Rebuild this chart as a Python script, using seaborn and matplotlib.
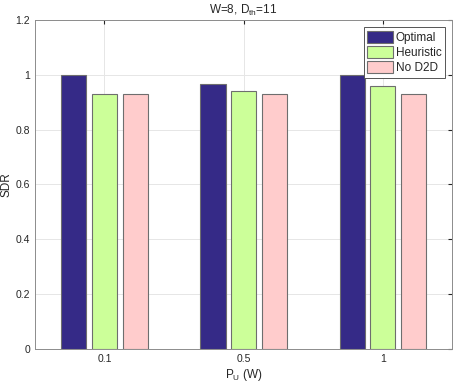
import numpy as np
import pandas as pd
import matplotlib
matplotlib.use("Agg")
import matplotlib.pyplot as plt
import seaborn as sns

# values
power = ["0.1", "0.5", "1"]
optimal = [1.0, 0.965, 1.0]
heuristic = [0.93, 0.942, 0.96]
no_d2d = [0.93, 0.93, 0.93]
schemes = ["Optimal", "Heuristic", "No D2D"]
colors = ["#352a87", "#ccff99", "#ffcccc"]

df = pd.DataFrame({
    "P": power * 3,
    "SDR": optimal + heuristic + no_d2d,
    "scheme": [s for s in schemes for _ in power],
})

sns.set_style("white")
plt.rcParams["font.family"] = ["Liberation Sans", "DejaVu Sans"]
plt.rcParams["mathtext.default"] = "regular"

fig = plt.figure(figsize=(4.6, 3.83), dpi=100)
ax = fig.add_axes([0.076, 0.089, 0.907, 0.859])

sns.barplot(data=df, x="P", y="SDR", hue="scheme", order=power,
            hue_order=schemes, palette=colors, width=0.66, gap=0.18,
            saturation=1, edgecolor="#6e6e6e", linewidth=0.8, ax=ax,
            zorder=3)

ax.set_xlim(-0.5, 2.5)
ax.set_ylim(0, 1.2)
ax.set_yticks(np.arange(0, 1.21, 0.2))
ax.set_yticklabels(["0", "0.2", "0.4", "0.6", "0.8", "1", "1.2"])
ax.grid(True, color="#e6e6e6", linewidth=0.7, zorder=0)
ax.set_axisbelow(True)
ax.tick_params(direction="in", length=3, labelsize=7.5, colors="#262626",
               top=True, right=True)
for s in ax.spines.values():
    s.set_color("#8c8c8c")
    s.set_linewidth(0.7)

ax.set_title("W=8, D$_{th}$=11", fontsize=8.5, pad=4, color="#262626")
ax.set_xlabel("P$_{U}$ (W)", fontsize=8.5, labelpad=2, color="#262626")
ax.set_ylabel("SDR", fontsize=8.5, labelpad=2, color="#262626")

leg = ax.legend(loc="upper right", fontsize=8.5, fancybox=False,
                edgecolor="#555555", handlelength=2.2, handleheight=1.2,
                handletextpad=0.2, borderpad=0.3, labelspacing=0.2,
                borderaxespad=0.6, framealpha=1)
leg.get_frame().set_linewidth(0.7)

fig.savefig("out.png", dpi=100)
